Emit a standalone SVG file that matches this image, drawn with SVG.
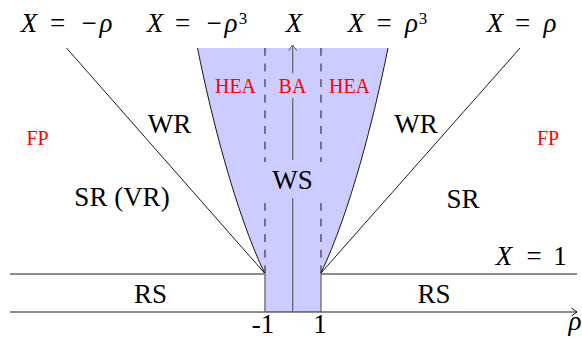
<svg xmlns="http://www.w3.org/2000/svg" width="582" height="339" viewBox="0 0 582 339" font-family="Liberation Serif, DejaVu Serif, serif">
<style>
text{font-family:"Liberation Serif","DejaVu Serif",serif}
.t{font-size:27px;fill:#000;text-anchor:middle}
.mi{font-style:italic}
.op{font-size:27px}
.sup{font-size:17px}
.red{fill:#ff0000;font-size:20px}
.ln{stroke:#000;stroke-width:0.9;fill:none}
.ax{stroke:#555;stroke-width:1.1;fill:none}
.dash{stroke:#000;stroke-width:0.9;fill:none;stroke-dasharray:7.8 7.8}
</style>
<defs>
<marker id="arr" markerUnits="userSpaceOnUse" markerWidth="12" markerHeight="12" refX="0" refY="0" viewBox="-7 -6 8 12" orient="auto">
<path d="M -5.5 -4 Q -1.5 -1 0 0 Q -1.5 1 -5.5 4" stroke="#000" stroke-width="0.9" fill="none"/>
</marker>
<marker id="arrg" markerUnits="userSpaceOnUse" markerWidth="12" markerHeight="12" refX="0" refY="0" viewBox="-7 -6 8 12" orient="auto">
<path d="M -5.5 -4 Q -1.5 -1 0 0 Q -1.5 1 -5.5 4" stroke="#555" stroke-width="1" fill="none"/>
</marker>
</defs>
<rect width="582" height="339" fill="#fff"/>

<g id="region-ws">
<path d="M 197.5 48 L 388 48 C 374 118 350 212 321 273 L 321 312 L 264.5 312 L 264.5 273 C 235.5 212 211.5 118 197.5 48 Z" fill="#ccccff"/>
<path class="ln" d="M 197.5 48 C 211.5 118 235.5 212 264.5 273"/>
<path class="ln" d="M 388 48 C 374 118 350 212 321 273"/>
</g>

<g id="connectors">
<line class="ln" x1="66.5" y1="48" x2="264.5" y2="273"/>
<line class="ln" x1="520" y1="48" x2="321" y2="273"/>
<line class="ln" x1="10" y1="274" x2="264.5" y2="274"/>
<line class="ln" x1="321" y1="274" x2="577" y2="274"/>
<line class="ln" x1="10" y1="312" x2="577" y2="312" marker-end="url(#arr)"/>
<line class="dash" x1="265" y1="48" x2="265" y2="162"/>
<line class="dash" x1="265" y1="203" x2="265" y2="273"/>
<line class="dash" x1="321" y1="48" x2="321" y2="162"/>
<line class="dash" x1="321" y1="203" x2="321" y2="273"/>
<line class="ax" x1="265" y1="273" x2="265" y2="312"/>
<line class="ax" x1="321" y1="273" x2="321" y2="312"/>
<line class="ax" x1="292.7" y1="312" x2="292.7" y2="198"/>
<line class="ax" x1="292.7" y1="160" x2="292.7" y2="98"/>
<line class="ax" x1="292.7" y1="73" x2="292.7" y2="45" marker-end="url(#arrg)"/>
</g>

<g id="label-x-neg-rho"><text class="t" font-family="Liberation Serif" y="32"><tspan class="mi" x="29">X</tspan><tspan class="op" x="57.5">=</tspan><tspan class="op" x="89">−</tspan><tspan class="mi" x="106">ρ</tspan></text></g>
<g id="label-x-neg-rho3"><text class="t" font-family="Liberation Serif" y="32"><tspan class="mi" x="155">X</tspan><tspan class="op" x="182.5">=</tspan><tspan class="op" x="214">−</tspan><tspan class="mi" x="231">ρ</tspan><tspan class="sup" x="243" y="24">3</tspan></text></g>
<g id="label-x"><text class="t mi" font-family="Liberation Serif" x="294" y="32">X</text></g>
<g id="label-x-rho3"><text class="t" font-family="Liberation Serif" y="32"><tspan class="mi" x="356">X</tspan><tspan class="op" x="384">=</tspan><tspan class="mi" x="411.5">ρ</tspan><tspan class="sup" x="423" y="24">3</tspan></text></g>
<g id="label-x-rho"><text class="t" font-family="Liberation Serif" y="32"><tspan class="mi" x="495">X</tspan><tspan class="op" x="522.5">=</tspan><tspan class="mi" x="550">ρ</tspan></text></g>
<g id="label-x1"><text class="t" font-family="Liberation Serif" y="265"><tspan class="mi" x="504">X</tspan><tspan class="op" x="534">=</tspan><tspan x="560">1</tspan></text></g>
<g id="label-rho-axis"><text class="t mi" font-family="Liberation Serif" x="575" y="330">ρ</text></g>
<g id="tick-m1"><text class="t" font-family="Liberation Serif" x="263" y="333">-1</text></g>
<g id="tick-1"><text class="t" font-family="Liberation Serif" x="320" y="333">1</text></g>

<g id="node-hea-left"><text class="t red" font-family="Liberation Serif" x="235.5" y="93">HEA</text></g>
<g id="node-ba"><text class="t red" font-family="Liberation Serif" x="292.5" y="93">BA</text></g>
<g id="node-hea-right"><text class="t red" font-family="Liberation Serif" x="349.5" y="93">HEA</text></g>
<g id="node-fp-left"><text class="t red" font-family="Liberation Serif" x="37.5" y="145">FP</text></g>
<g id="node-fp-right"><text class="t red" font-family="Liberation Serif" x="548" y="145">FP</text></g>
<g id="node-wr-left"><text class="t" font-family="Liberation Serif" x="169.5" y="133">WR</text></g>
<g id="node-wr-right"><text class="t" font-family="Liberation Serif" x="416" y="133">WR</text></g>
<g id="node-sr-vr"><text class="t" font-family="Liberation Serif" x="122" y="206">SR (VR)</text></g>
<g id="node-sr"><text class="t" font-family="Liberation Serif" x="463" y="208">SR</text></g>
<g id="node-ws"><text class="t" font-family="Liberation Serif" x="292.5" y="189">WS</text></g>
<g id="node-rs-left"><text class="t" font-family="Liberation Serif" x="150.5" y="303">RS</text></g>
<g id="node-rs-right"><text class="t" font-family="Liberation Serif" x="434" y="303">RS</text></g>
</svg>
